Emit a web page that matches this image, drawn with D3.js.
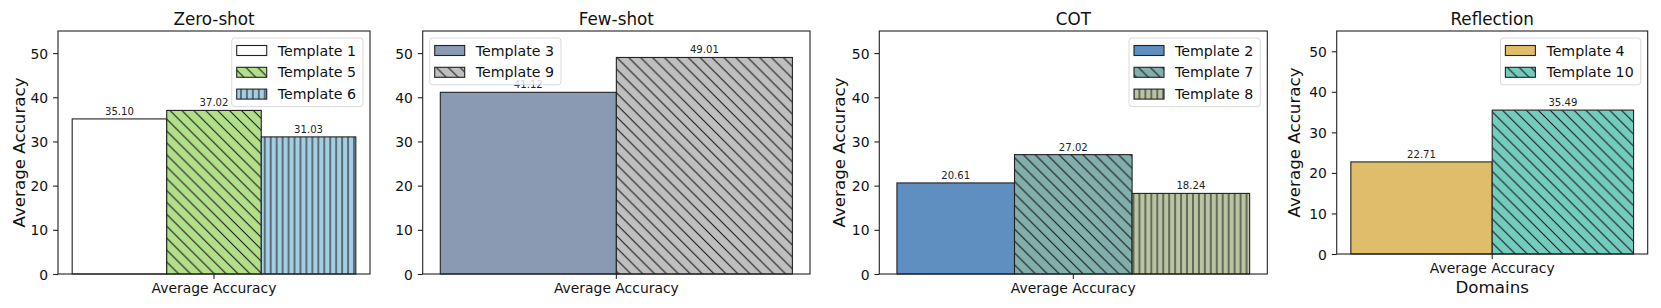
<!DOCTYPE html>
<html>
<head>
<meta charset="utf-8">
<script src="https://cdn.jsdelivr.net/npm/d3@7"></script>
<style>
  body { margin: 0; background: #fff; }
  svg { display: block; }
  text { font-family: "DejaVu Sans", sans-serif; }
</style>
</head>
<body>
<div id="viz"></div>
<script>
const width = 1661;
const height = 308;

// Data
const panelTitles = ['Zero-shot', 'Few-shot', 'COT', 'Reflection'];
const panelTemplates = [
  ['Template 1', 'Template 5', 'Template 6'],
  ['Template 3', 'Template 9'],
  ['Template 2', 'Template 7', 'Template 8'],
  ['Template 4', 'Template 10']
];
const panelValues = [
  [35.10, 37.02, 31.03],
  [41.12, 49.01],
  [20.61, 27.02, 18.24],
  [22.71, 35.49]
];
const xTickLabel = 'Average Accuracy';
const yLabel = 'Average Accuracy';
const yTicks = [0, 10, 20, 30, 40, 50];
const yMax = 55;

// Styles per template (colour + hatch)
const templateStyle = {
  'Template 1':  {color: '#ffffff', hatch: null},
  'Template 5':  {color: '#b2df8a', hatch: 'diag'},
  'Template 6':  {color: '#a6cee3', hatch: 'vert'},
  'Template 3':  {color: '#8a9ab3', hatch: null},
  'Template 9':  {color: '#bfbfbf', hatch: 'diag'},
  'Template 2':  {color: '#5e8fc0', hatch: null},
  'Template 7':  {color: '#82aeac', hatch: 'diag'},
  'Template 8':  {color: '#bac4a2', hatch: 'vert'},
  'Template 4':  {color: '#dfbd6a', hatch: null},
  'Template 10': {color: '#74ccbe', hatch: 'diag'}
};

// Panel layout (pixels)
const layout = [
  {left: 58,     right: 370,    top: 31, bottom: 274, ylabelX: 24.7,   legend: 'right'},
  {left: 422.7,  right: 810,    top: 31, bottom: 274, ylabelX: 386.5,  legend: 'left', clipX: 380},
  {left: 879.3,  right: 1267.3, top: 31, bottom: 274, ylabelX: 845,    legend: 'right'},
  {left: 1336.7, right: 1647.7, top: 31, bottom: 254, ylabelX: 1299.7, legend: 'right', xlabel: 'Domains'}
];

const svg = d3.select('#viz')
  .append('svg')
    .attr('width', width)
    .attr('height', height)
    .attr('font-family', 'DejaVu Sans');

svg.append('rect').attr('width', width).attr('height', height).attr('fill', '#fff');

const defs = svg.append('defs');

// hatch patterns, one per template with a hatch
const hatchStep = 5.95;
Object.entries(templateStyle).forEach(([name, st]) => {
  if (!st.hatch) return;
  const id = 'hatch' + name.replace(/\s/g, '');
  st.fill = `url(#${id})`;
  const s = st.hatch === 'diag' ? hatchStep * 2 : hatchStep;
  const p = defs.append('pattern')
    .attr('id', id)
    .attr('patternUnits', 'userSpaceOnUse')
    .attr('width', s)
    .attr('height', s);
  p.append('rect').attr('width', s).attr('height', s).attr('fill', st.color);
  const d = st.hatch === 'diag'
    ? `M-1,-1L${s + 1},${s + 1}M-1,${s - 1}L1,${s + 1}M${s - 1},-1L${s + 1},1`
    : `M${s / 2},0V${s}`;
  p.append('path')
    .attr('d', d)
    .attr('stroke', '#111')
    .attr('stroke-width', 1)
    .attr('fill', 'none');
});
Object.values(templateStyle).forEach(st => { if (!st.fill) st.fill = st.color; });

panelTitles.forEach((title, pi) => {
  const L = layout[pi];
  const names = panelTemplates[pi];
  const values = panelValues[pi];
  const g = svg.append('g');

  const xScale = d3.scaleBand()
    .domain(names)
    .range([L.left, L.right])
    .paddingInner(0)
    .paddingOuter(0.05 * names.length);

  const yScale = d3.scaleLinear()
    .domain([0, yMax])
    .range([L.bottom, L.top]);

  // bars
  g.append('g')
    .selectAll('rect')
    .data(names)
    .join('rect')
      .attr('x', d => xScale(d))
      .attr('y', (d, i) => yScale(values[i]))
      .attr('width', xScale.bandwidth())
      .attr('height', (d, i) => yScale(0) - yScale(values[i]))
      .attr('fill', d => templateStyle[d].fill)
      .attr('stroke', '#222')
      .attr('stroke-width', 1.1);

  // value labels
  g.append('g')
    .selectAll('text')
    .data(names)
    .join('text')
      .attr('x', d => xScale(d) + xScale.bandwidth() / 2)
      .attr('y', (d, i) => yScale(values[i]) - 4)
      .attr('text-anchor', 'middle')
      .style('font-size', '10.1px')
      .attr('fill', '#222')
      .text((d, i) => values[i].toFixed(2));

  // y axis
  const yAxis = g.append('g')
    .attr('transform', `translate(${L.left},0)`)
    .call(d3.axisLeft(yScale).tickValues(yTicks).tickSize(4.9).tickPadding(4.9));
  yAxis.attr('font-family', null);
  yAxis.select('.domain').remove();
  yAxis.selectAll('.tick line').attr('stroke', '#222').attr('stroke-width', 1.1);
  yAxis.selectAll('.tick text')
    .style('font-size', '13.9px')
    .attr('fill', '#111')
    .attr('dy', '0.36em');

  // x axis: one tick at the middle
  const xMid = (L.left + L.right) / 2;
  g.append('line')
    .attr('x1', xMid).attr('x2', xMid)
    .attr('y1', L.bottom).attr('y2', L.bottom + 4.9)
    .attr('stroke', '#222').attr('stroke-width', 1.1);
  g.append('text')
    .attr('x', xMid)
    .attr('y', L.bottom + 18.8)
    .attr('text-anchor', 'middle')
    .style('font-size', '13.9px')
    .attr('fill', '#111')
    .text(xTickLabel);

  if (L.xlabel) {
    g.append('text')
      .attr('x', xMid)
      .attr('y', L.bottom + 38.5)
      .attr('text-anchor', 'middle')
      .style('font-size', '16.7px')
      .attr('fill', '#111')
      .text(L.xlabel);
  }

  // frame
  g.append('rect')
    .attr('x', L.left).attr('y', L.top)
    .attr('width', L.right - L.left).attr('height', L.bottom - L.top)
    .attr('fill', 'none')
    .attr('stroke', '#222')
    .attr('stroke-width', 1.1);

  // title
  g.append('text')
    .attr('x', xMid)
    .attr('y', L.top - 6)
    .attr('text-anchor', 'middle')
    .style('font-size', '16.8px')
    .attr('fill', '#111')
    .text(title);

  // y label (clipped for the second panel)
  const yl = g.append('text')
    .attr('transform', `translate(${L.ylabelX},${(L.top + L.bottom) / 2}) rotate(-90)`)
    .attr('text-anchor', 'middle')
    .style('font-size', '16.7px')
    .attr('fill', '#111')
    .text(yLabel);
  if (L.clipX) {
    defs.append('clipPath').attr('id', 'clip' + pi)
      .append('rect')
        .attr('x', L.clipX).attr('y', 0)
        .attr('width', 60).attr('height', height);
    yl.attr('clip-path', `url(#clip${pi})`);
  }

  // legend
  const rowPitch = 21.8;
  const boxTop = L.top + 7;
  const leg = g.append('g');
  const frame = leg.append('rect');
  const rows = leg.selectAll('g.row')
    .data(names)
    .join('g')
      .attr('class', 'row');
  const labels = rows.append('text')
    .style('font-size', '14.2px')
    .attr('fill', '#111')
    .text(d => d);
  const maxW = d3.max(labels.nodes(), n => n.getComputedTextLength());
  const boxW = 5 + 30 + 11 + maxW + 7;
  const boxH = 25 + (names.length - 1) * rowPitch;
  const boxLeft = L.legend === 'right' ? L.right - 7 - boxW : L.left + 7;

  frame
    .attr('x', boxLeft).attr('y', boxTop)
    .attr('width', boxW).attr('height', boxH)
    .attr('rx', 3)
    .attr('fill', '#fff').attr('fill-opacity', 0.8)
    .attr('stroke', '#d0d0d0').attr('stroke-opacity', 0.8)
    .attr('stroke-width', 1);

  rows.each(function(d, i) {
    const cy = boxTop + 12.5 + i * rowPitch;
    const r = d3.select(this);
    r.insert('rect', 'text')
      .attr('x', boxLeft + 5)
      .attr('y', cy - 5)
      .attr('width', 30)
      .attr('height', 10)
      .attr('fill', templateStyle[d].fill)
      .attr('stroke', '#222')
      .attr('stroke-width', 1.1);
    r.select('text')
      .attr('x', boxLeft + 5 + 30 + 11)
      .attr('y', cy + 5);
  });
});
</script>
</body>
</html>
